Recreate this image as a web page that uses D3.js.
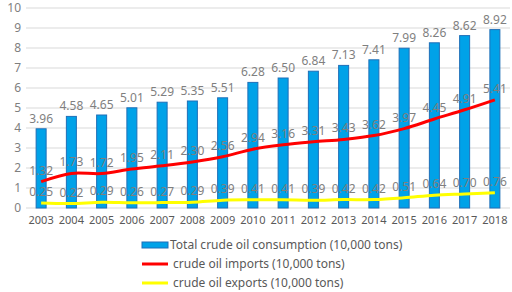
<!DOCTYPE html>
<html>
<head>
<meta charset="utf-8">
<script src="https://cdn.jsdelivr.net/npm/d3@7"></script>
<style>
  body { margin: 0; background: #fff; }
  svg { font-family: "Noto Sans", "DejaVu Sans", sans-serif; }
</style>
</head>
<body>
<div id="chart"></div>
<script>
// chart data
const years = ['2003', '2004', '2005', '2006', '2007', '2008', '2009', '2010',
    '2011', '2012', '2013', '2014', '2015', '2016', '2017', '2018'];
const consumption = [3.96, 4.58, 4.65, 5.01, 5.29, 5.35, 5.51, 6.28, 6.50, 6.84, 7.13, 7.41, 7.99, 8.26, 8.62, 8.92];
const imports = [1.32, 1.73, 1.72, 1.95, 2.11, 2.30, 2.56, 2.94, 3.16, 3.31, 3.43, 3.62, 3.97, 4.45, 4.91, 5.41];
const exports = [0.25, 0.22, 0.29, 0.26, 0.27, 0.29, 0.39, 0.41, 0.41, 0.39, 0.42, 0.42, 0.51, 0.64, 0.70, 0.76];
const yTicks = [0, 1, 2, 3, 4, 5, 6, 7, 8, 9, 10];

const width = 512, height = 292;
const margin = { top: 8, right: 2, bottom: 84, left: 26 };

const svg = d3.select('#chart').append('svg')
    .attr('width', width)
    .attr('height', height);

const x = d3.scaleBand()
    .domain(years)
    .range([margin.left, width - margin.right]);

const y = d3.scaleLinear()
    .domain([0, 10])
    .range([height - margin.bottom, margin.top]);

const labelColor = '#7f7f7f';

// gridlines
svg.append('g')
    .selectAll('line')
    .data(yTicks)
    .join('line')
    .attr('x1', margin.left)
    .attr('x2', width - margin.right)
    .attr('y1', d => y(d))
    .attr('y2', d => y(d))
    .attr('stroke', '#d9d9d9')
    .attr('stroke-width', 1);

// y axis labels
svg.append('g')
    .selectAll('text')
    .data(yTicks)
    .join('text')
    .attr('x', 21)
    .attr('y', d => y(d))
    .attr('dy', '0.35em')
    .attr('text-anchor', 'end')
    .attr('font-size', 12)
    .attr('fill', '#7f7f7f')
    .text(d => d);

// x axis labels
svg.append('g')
    .selectAll('text')
    .data(years)
    .join('text')
    .attr('x', d => x(d) + x.bandwidth() / 2)
    .attr('y', y(0) + 16)
    .attr('text-anchor', 'middle')
    .attr('font-size', 11)
    .attr('fill', '#595959')
    .text(d => d);

// bars
const barW = 10;
svg.append('g')
    .selectAll('rect')
    .data(consumption)
    .join('rect')
    .attr('x', (d, i) => x(years[i]) + x.bandwidth() / 2 - barW / 2)
    .attr('y', d => y(d))
    .attr('width', barW)
    .attr('height', d => y(0) - y(d))
    .attr('fill', '#00a2e8')
    .attr('stroke', '#1f6fb8')
    .attr('stroke-width', 1);

// lines
const line = d3.line()
    .x((d, i) => x(years[i]) + x.bandwidth() / 2)
    .y(d => y(d))
    .curve(d3.curveCatmullRom.alpha(0.5));

svg.append('path')
    .datum(exports)
    .attr('fill', 'none')
    .attr('stroke', '#ffff00')
    .attr('stroke-width', 3)
    .attr('d', line);

svg.append('path')
    .datum(imports)
    .attr('fill', 'none')
    .attr('stroke', '#ff0000')
    .attr('stroke-width', 3)
    .attr('d', line);

// data labels
function addLabels(values, offset) {
    svg.append('g')
        .selectAll('text')
        .data(values)
        .join('text')
        .attr('x', (d, i) => x(years[i]) + x.bandwidth() / 2)
        .attr('y', d => y(d) - offset)
        .attr('text-anchor', 'middle')
        .attr('font-size', 12)
        .attr('fill', labelColor)
        .text(d => d.toFixed(2));
}
addLabels(consumption, 6);
addLabels(imports, 7);
addLabels(exports, 7);

// legend
const legendItems = [
    { name: 'Total crude oil consumption (10,000 tons)', type: 'bar', color: '#00a2e8' },
    { name: 'crude oil imports (10,000 tons)', type: 'line', color: '#ff0000' },
    { name: 'crude oil exports (10,000 tons)', type: 'line', color: '#ffff00' }
];

const legend = svg.append('g')
    .selectAll('g')
    .data(legendItems)
    .join('g')
    .attr('transform', (d, i) => `translate(142,${245 + i * 19})`);

legend.filter(d => d.type === 'bar').append('rect')
    .attr('x', 0)
    .attr('y', -3)
    .attr('width', 26)
    .attr('height', 6)
    .attr('fill', d => d.color)
    .attr('stroke', '#1f6fb8')
    .attr('stroke-width', 1);

legend.filter(d => d.type === 'line').append('line')
    .attr('x1', 0)
    .attr('x2', 26)
    .attr('stroke', d => d.color)
    .attr('stroke-width', 3);

legend.append('text')
    .attr('x', d => d.type === 'bar' ? 28 : 31)
    .attr('dy', '0.35em')
    .attr('font-size', 12)
    .attr('fill', '#595959')
    .text(d => d.name);
</script>
</body>
</html>
